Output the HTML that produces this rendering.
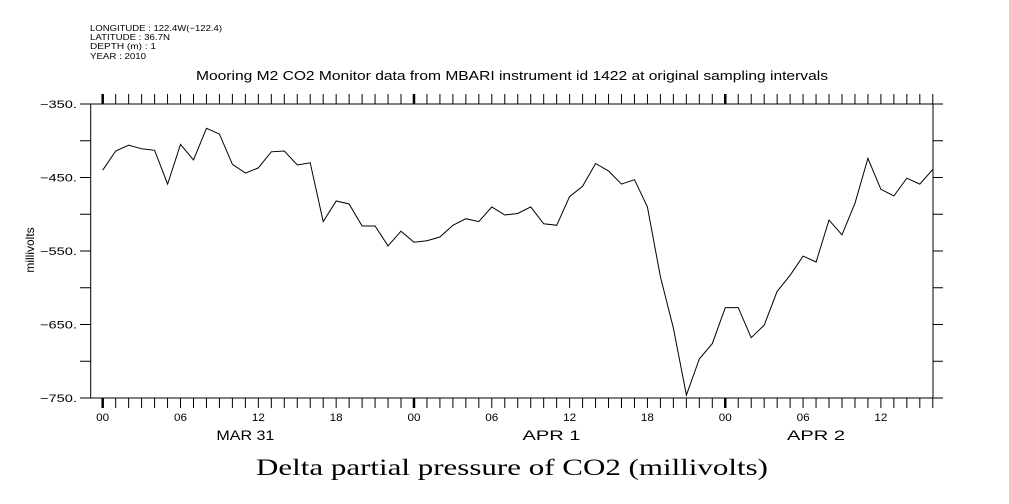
<!DOCTYPE html>
<html><head><meta charset="utf-8"><style>
body{margin:0;background:#fff;}
svg{display:block;font-family:"Liberation Sans",sans-serif;}
</style></head><body>
<svg id="chart" width="1009" height="504" viewBox="0 0 1009 504">
<g font-size="8.5" fill="#000">
<text x="90" y="31" textLength="132" lengthAdjust="spacingAndGlyphs">LONGITUDE : 122.4W(−122.4)</text>
<text x="90" y="40" textLength="80" lengthAdjust="spacingAndGlyphs">LATITUDE : 36.7N</text>
<text x="90" y="49" textLength="66" lengthAdjust="spacingAndGlyphs">DEPTH (m) : 1</text>
<text x="90" y="59" textLength="56" lengthAdjust="spacingAndGlyphs">YEAR : 2010</text>
</g>
<text x="196" y="80" font-size="12.5" textLength="632" lengthAdjust="spacingAndGlyphs">Mooring M2 CO2 Monitor data from MBARI instrument id 1422 at original sampling intervals</text>
<text x="256" y="475" font-size="23" font-family="Liberation Serif,serif" textLength="512" lengthAdjust="spacingAndGlyphs">Delta partial pressure of CO2 (millivolts)</text>
<text x="0" y="0" font-size="12" text-anchor="middle" transform="translate(34,250) rotate(-90)">millivolts</text>
<rect x="90.7" y="104" width="842.3" height="294" fill="none" stroke="#000" stroke-width="1"/>
<g id="axes"></g>
<path id="line" fill="none" stroke="#000" stroke-width="1"/>
</svg>
<script>
const hours=[0,1,2,3,4,5,6,7,8,9,10,11,12,13,14,15,16,17,18,19,20,21,22,23,24,25,26,27,28,29,30,31,32,33,34,35,36,37,38,39,40,41,42,43,44,45,46,47,48,49,50,51,52,53,54,55,56,57,58,59,60,61,62,63,64];
const values=[-440,-414,-406,-411,-413,-459,-405,-426,-383,-391,-432,-444,-437,-415,-414,-433,-430,-510,-482,-486,-516,-516,-543,-523,-538,-536,-531,-515,-506,-510,-490,-501,-499,-490,-513,-515,-476,-462,-431,-441,-459,-453,-490,-585,-655,-746,-697,-676,-627,-627,-668,-651,-605,-583,-557,-565,-508,-528,-485,-424,-466,-475,-451,-459,-439];
const yTickLabels=["-350.","-450.","-550.","-650.","-750."];
const yTickValues=[-350,-450,-550,-650,-750];
const xTickLabels=["00","06","12","18","00","06","12","18","00","06","12"];
const dateLabels=["MAR 31","APR  1","APR  2"];
const dateHours=[11,34.6,55];
const X=h=>102.7+h*12.97;
const Y=v=>104+(-350-v)*0.735;
const ns="http://www.w3.org/2000/svg";
const g=document.getElementById('axes');
function ln(x1,y1,x2,y2,w,name){const l=document.createElementNS(ns,'line');
l.setAttribute('x1',x1);l.setAttribute('y1',y1);l.setAttribute('x2',x2);l.setAttribute('y2',y2);
l.setAttribute('stroke','#000');l.setAttribute('stroke-width',w);


g.appendChild(l);}
function tx(x,y,s,anchor,size,name,len){const t=document.createElementNS(ns,'text');
t.setAttribute('x',x);t.setAttribute('y',y);t.setAttribute('font-size',size);t.setAttribute('text-anchor',anchor);
if(len){t.setAttribute('textLength',len);t.setAttribute('lengthAdjust','spacingAndGlyphs');}


t.setAttribute('xml:space','preserve');t.textContent=s;g.appendChild(t);}
for(let h=0;h<=64;h++){const x=X(h);const w=(h%24===0)?2.5:1;
ln(x,94,x,104,w,'x-tick-top');ln(x,398,x,408,w,'x-tick-bottom');}
xTickLabels.forEach((s,i)=>tx(X(i*6),421,s,'middle',11,'x-tick-label',13));
dateLabels.forEach((s,i)=>tx(X(dateHours[i]),440,s,'middle',14,'date-label',58));
for(let v=-350;v>=-750;v-=50){const y=Y(v);ln(80,y,90.7,y,1,'y-tick-left');ln(933,y,943,y,1,'y-tick-right');}
yTickValues.forEach((v,i)=>tx(77,Y(v)+4,yTickLabels[i].replace('-','−'),'end',11,'y-tick-label',37));
document.getElementById('line').setAttribute('d',hours.map((h,i)=>(i?'L':'M')+X(h).toFixed(1)+','+Y(values[i]).toFixed(1)).join(''));
</script>
</body></html>
